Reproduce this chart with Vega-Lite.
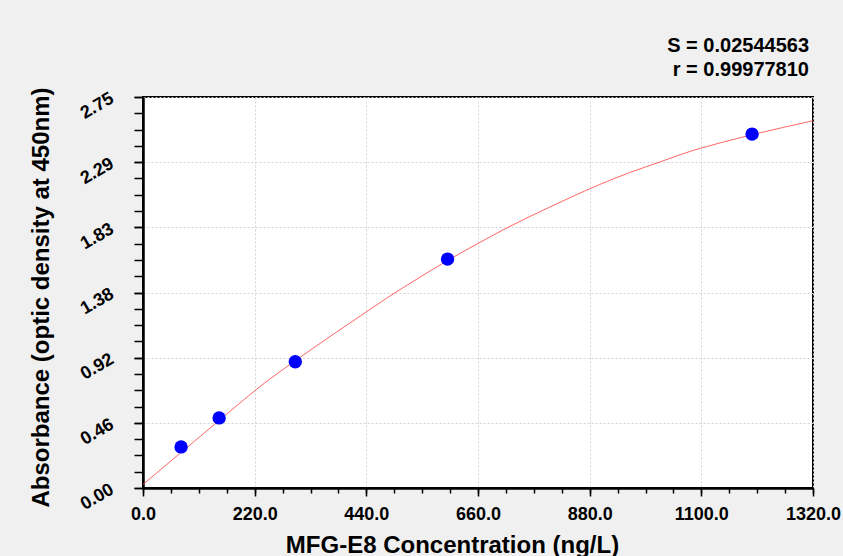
{
  "$schema": "https://vega.github.io/schema/vega-lite/v6.json",
  "width": 670,
  "height": 391,
  "autosize": {"type": "none"},
  "padding": {"left": 143, "top": 97, "right": 30, "bottom": 68},
  "background": "#f0f0f0",
  "config": {
    "font": "Liberation Sans",
    "view": {"fill": "white", "stroke": "#000", "strokeWidth": 2}
  },
  "title": {
    "text": ["S = 0.02544563", "r = 0.99977810"],
    "anchor": "end",
    "frame": "group",
    "fontSize": 20,
    "fontWeight": "bold",
    "lineHeight": 24,
    "offset": 7,
    "dx": -4,
    "color": "#000"
  },
  "datasets": {
    "curve": [
      {"conc": 0, "od": 0.025},
      {"conc": 60, "od": 0.205},
      {"conc": 120, "od": 0.385},
      {"conc": 180, "od": 0.565},
      {"conc": 240, "od": 0.74},
      {"conc": 300, "od": 0.895},
      {"conc": 360, "od": 1.045},
      {"conc": 420, "od": 1.19},
      {"conc": 480, "od": 1.335},
      {"conc": 540, "od": 1.47},
      {"conc": 600, "od": 1.6},
      {"conc": 660, "od": 1.72},
      {"conc": 720, "od": 1.835},
      {"conc": 780, "od": 1.94},
      {"conc": 840, "od": 2.04},
      {"conc": 900, "od": 2.135},
      {"conc": 960, "od": 2.22},
      {"conc": 1020, "od": 2.295},
      {"conc": 1080, "od": 2.37},
      {"conc": 1140, "od": 2.43},
      {"conc": 1200, "od": 2.485},
      {"conc": 1260, "od": 2.535},
      {"conc": 1320, "od": 2.583}
    ],
    "points": [
      {"conc": 75, "od": 0.289},
      {"conc": 150, "od": 0.493},
      {"conc": 300, "od": 0.888},
      {"conc": 600, "od": 1.61},
      {"conc": 1200, "od": 2.489}
    ]
  },
  "layer": [
    {
      "data": {"name": "curve"},
      "mark": {"type": "line", "color": "#ff4a4a", "strokeWidth": 1, "interpolate": "monotone", "opacity": 0.85},
      "encoding": {
        "x": {
          "field": "conc", "type": "quantitative",
          "scale": {"domain": [0, 1320], "nice": false, "zero": false},
          "axis": {
            "orient": "bottom", "title": null, "labels": false, "grid": false,
            "values": [0,55,110,165,220,275,330,385,440,495,550,605,660,715,770,825,880,935,990,1045,1100,1155,1210,1265,1320],
            "tickSize": 5, "tickWidth": 1.5, "tickColor": "#000",
            "domainColor": "#000", "domainWidth": 2
          }
        },
        "y": {
          "field": "od", "type": "quantitative",
          "scale": {"domain": [0, 2.75], "nice": false, "zero": false},
          "axis": {
            "orient": "left", "title": null, "labels": false, "grid": false,
            "values": [0,0.114583,0.229167,0.34375,0.458333,0.572917,0.6875,0.802083,0.916667,1.03125,1.145833,1.260417,1.375,1.489583,1.604167,1.71875,1.833333,1.947917,2.0625,2.177083,2.291667,2.40625,2.520833,2.635417,2.75],
            "tickSize": 9, "tickWidth": 1.5, "tickColor": "#000",
            "domainColor": "#000", "domainWidth": 2
          }
        }
      }
    },
    {
      "data": {"name": "points"},
      "mark": {"type": "point", "filled": true, "size": 180, "color": "#0000ff", "opacity": 1},
      "encoding": {
        "x": {
          "field": "conc", "type": "quantitative",
          "scale": {"domain": [0, 1320], "nice": false, "zero": false},
          "axis": {
            "orient": "bottom",
            "values": [0,220,440,660,880,1100,1320],
            "format": ".1f",
            "labelFontSize": 18, "labelFontWeight": "bold", "labelColor": "#000",
            "labelPadding": 9, "labelFlush": false,
            "tickSize": 8, "tickWidth": 1.5, "tickColor": "#000",
            "domainColor": "#000", "domainWidth": 2,
            "grid": true, "gridColor": "#d4d4d4", "gridDash": [2, 2], "gridWidth": 1,
            "title": "MFG-E8 Concentration (ng/L)",
            "titleFontSize": 24, "titleFontWeight": "bold", "titleColor": "#000",
            "titlePadding": 10, "titleX": 309, "titleAlign": "center"
          }
        },
        "y": {
          "field": "od", "type": "quantitative",
          "scale": {"domain": [0, 2.75], "nice": false, "zero": false},
          "axis": {
            "orient": "left",
            "values": [0,0.458333,0.916667,1.375,1.833333,2.291667,2.75],
            "format": ".2f",
            "labelFontSize": 18, "labelFontWeight": "bold", "labelColor": "#000",
            "labelAngle": -30, "labelAlign": "right", "labelBaseline": "middle",
            "labelPadding": 22, "labelFlush": false,
            "tickSize": 9, "tickWidth": 1.5, "tickColor": "#000",
            "domainColor": "#000", "domainWidth": 2,
            "grid": true, "gridColor": "#d4d4d4", "gridDash": [2, 2], "gridWidth": 1,
            "title": "Absorbance (optic density at 450nm)",
            "titleFontSize": 24, "titleFontWeight": "bold", "titleColor": "#000",
            "titlePadding": 24, "titleY": 200, "titleAlign": "center"
          }
        }
      }
    }
  ],
  "resolve": {"axis": {"x": "independent", "y": "independent"}}
}
